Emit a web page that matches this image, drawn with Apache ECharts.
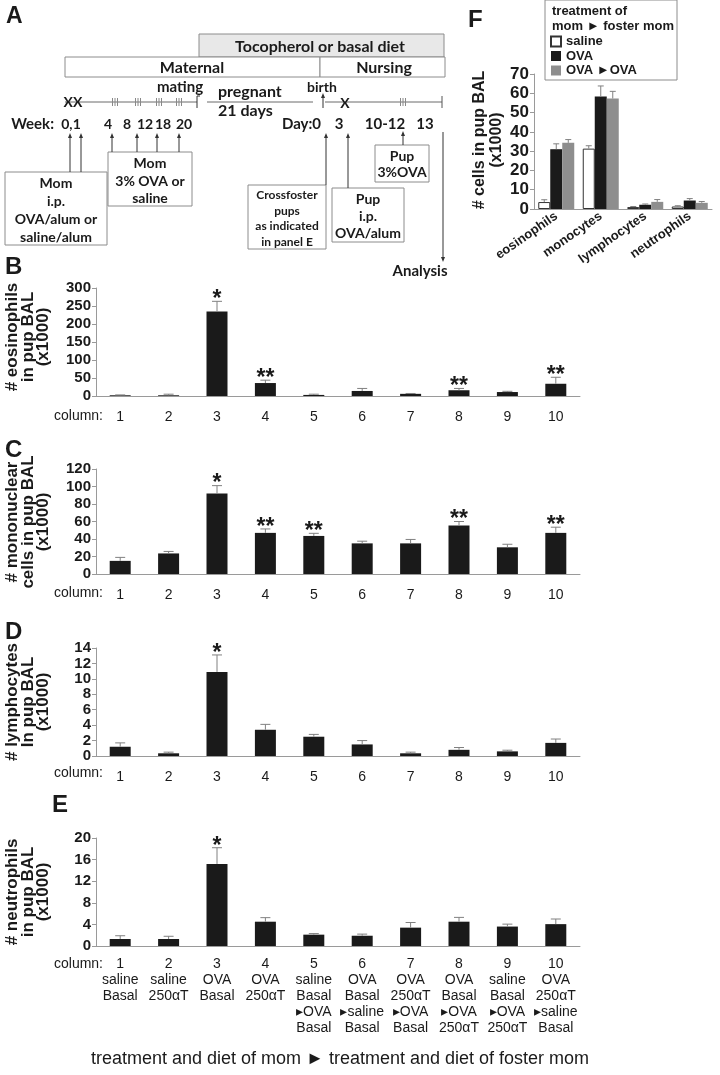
<!DOCTYPE html>
<html><head><meta charset="utf-8">
<script src="https://cdn.jsdelivr.net/npm/echarts@6/dist/echarts.min.js"></script>
<style>html,body{margin:0;padding:0;background:#fff}#c{width:720px;height:1075px}</style>
</head><body><div id="c"></div><script>
// ---------- data ----------
const columnLabels = ['1','2','3','4','5','6','7','8','9','10'];
const columnGroups = ['saline\nBasal','saline\n250αT','OVA\nBasal','OVA\n250αT',
  'saline\nBasal\n▸OVA\nBasal','OVA\nBasal\n▸saline\nBasal','OVA\n250αT\n▸OVA\nBasal',
  'OVA\nBasal\n▸OVA\n250αT','saline\nBasal\n▸OVA\n250αT','OVA\n250αT\n▸saline\nBasal'];

const eosinophils    = [2, 2, 235, 36, 3, 14, 6, 16, 11, 34];
const eosinophilsErr = [3, 5, 263, 44, 5, 21, 7, 21, 13, 52];
const eosinophilsSig = ['', '', '*', '**', '', '', '', '**', '', '**'];

const mononuclear    = [15, 23.5, 92, 47, 43.5, 35, 35, 55.5, 30.5, 47];
const mononuclearErr = [19, 25.8, 101, 51.5, 46.5, 37.5, 39.5, 60, 34, 53.5];
const mononuclearSig = ['', '', '*', '**', '**', '', '', '**', '', '**'];

const lymphocytes    = [1.2, 0.35, 10.9, 3.4, 2.5, 1.5, 0.35, 0.8, 0.6, 1.7];
const lymphocytesErr = [1.7, 0.5, 13.1, 4.1, 2.8, 2.0, 0.5, 1.1, 0.75, 2.2];
const lymphocytesSig = ['', '', '*', '', '', '', '', '', '', ''];

const neutrophils    = [1.3, 1.3, 15.2, 4.5, 2.1, 1.9, 3.4, 4.5, 3.6, 4.05];
const neutrophilsErr = [1.9, 1.8, 18.2, 5.25, 2.3, 2.2, 4.35, 5.3, 4.05, 5.0];
const neutrophilsSig = ['', '', '*', '', '', '', '', '', '', ''];

const cellTypes = ['eosinophils', 'monocytes', 'lymphocytes', 'neutrophils'];
const fosterNames = ['saline', 'OVA', 'OVA ►OVA'];
const fosterSaline    = [3.6, 31.3, 1.0, 1.3];
const fosterSalineErr = [4.8, 32.8, 1.3, 1.7];
const fosterOVA       = [31, 58.3, 2.2, 4.4];
const fosterOVAErr    = [33.8, 63.8, 2.6, 5.4];
const fosterOVAOVA    = [34.3, 57.3, 3.7, 3.2];
const fosterOVAOVAErr = [36, 61, 4.9, 3.9];

// axis scales (max, interval)
const eosAxis = [300, 50], monoAxis = [120, 20], lymphAxis = [14, 2], neutAxis = [20, 4], cellAxis = [70, 10];

// ---------- styling ----------
const NARROW = "'Liberation Sans Narrow','Arial Narrow','Liberation Sans',Arial,sans-serif";
const ARIAL = "'Liberation Sans',Arial,Helvetica,sans-serif";
const CAL = "Lato,'Open Sans',sans-serif";
const INK = '#1a1a1a', AXIS = '#9a9a9a', ERR = '#808080';

const G = [];
function T(x, y, str, o) {
  o = o || {};
  G.push({type: 'text', x: x, y: y, rotation: o.rot || 0, z: 20, silent: true,
    style: {text: str, font: (o.w || 'bold') + ' ' + (o.s || 14) + 'px ' + (o.f || CAL),
      fill: o.c || INK, textAlign: o.a || 'center', textVerticalAlign: o.v || 'middle'}});
}
function R(x, y, w, h, fill) {
  G.push({type: 'rect', z: 5, silent: true, shape: {x: x, y: y, width: w, height: h},
    style: {fill: fill || '#fff', stroke: '#8c8c8c', lineWidth: 1}});
}
function L(x1, y1, x2, y2, c) {
  G.push({type: 'line', z: 6, silent: true, shape: {x1: x1, y1: y1, x2: x2, y2: y2},
    style: {stroke: c || '#6a6a6a', lineWidth: 1}});
}
function up(x, yFrom, yTo) {
  L(x, yFrom, x, yTo + 3, '#333');
  G.push({type: 'polygon', z: 7, silent: true, shape: {points: [[x, yTo], [x - 2, yTo + 5], [x + 2, yTo + 5]]}, style: {fill: '#333'}});
}
function down(x, yFrom, yTo) {
  L(x, yFrom, x, yTo - 3, '#333');
  G.push({type: 'polygon', z: 7, silent: true, shape: {points: [[x, yTo], [x - 2, yTo - 5], [x + 2, yTo - 5]]}, style: {fill: '#333'}});
}
function triple(x, y) { L(x - 2.5, y - 4, x - 2.5, y + 4, '#888'); L(x, y - 4, x, y + 4, '#888'); L(x + 2.5, y - 4, x + 2.5, y + 4, '#888'); }

// ---------- panel A schematic ----------
T(6, 17, 'A', {s: 23, f: ARIAL, a: 'left'});
R(199, 34, 245, 23, '#e8e8e8');
T(320, 47, 'Tocopherol or basal diet', {s: 16});
R(65, 57, 255, 20); T(192, 68, 'Maternal', {s: 16});
R(320, 57, 125, 20); T(384, 68, 'Nursing', {s: 16});
L(65, 102, 197, 102); L(197, 96, 197, 108, '#333'); L(197, 96, 200, 96, '#333');
L(207, 102, 313, 102); L(325, 102, 442, 102); L(442, 96, 442, 108, '#555');
[115, 138, 159, 179, 403].forEach(function (x) { triple(x, 102); });
T(73, 102, 'XX', {s: 14}); T(345, 103, 'X', {s: 14});
T(180, 87, 'mating', {s: 15});
T(218, 92, 'pregnant', {s: 16, a: 'left'}); T(218, 111, '21 days', {s: 16, a: 'left'});
T(322, 87, 'birth', {s: 14}); up(323, 108, 93);
T(54, 124, 'Week:', {s: 15, a: 'right'});
T(71, 124, '0,1', {s: 14}); T(108, 124, '4', {s: 14}); T(127, 124, '8', {s: 14});
T(145, 124, '12', {s: 14}); T(163, 124, '18', {s: 14}); T(184, 124, '20', {s: 14});
T(321, 124, 'Day:0', {s: 15, a: 'right'}); T(339, 124, '3', {s: 15});
T(385, 124, '10-12', {s: 15}); T(425, 124, '13', {s: 15});
[70, 81].forEach(function (x) { up(x, 172, 133); });
[112, 137, 157, 179].forEach(function (x) { up(x, 152, 133); });
up(326, 185, 133); up(348, 188, 133); up(403, 145, 131); down(443, 132, 262);
R(5, 172, 102, 73);
T(56, 183, 'Mom', {s: 14}); T(56, 201, 'i.p.', {s: 14}); T(56, 219, 'OVA/alum or', {s: 14}); T(56, 237, 'saline/alum', {s: 14});
R(108, 152, 84, 54);
T(150, 163, 'Mom', {s: 14}); T(150, 181, '3% OVA or', {s: 14}); T(150, 198, 'saline', {s: 14});
R(248, 185, 78, 64);
T(287, 195, 'Crossfoster', {s: 12}); T(287, 211, 'pups', {s: 12}); T(287, 226, 'as indicated', {s: 12}); T(287, 242, 'in panel E', {s: 12});
R(332, 188, 72, 54);
T(368, 199, 'Pup', {s: 14}); T(368, 216, 'i.p.', {s: 14}); T(368, 233, 'OVA/alum', {s: 14});
R(375, 145, 54, 37);
T(402, 156, 'Pup', {s: 14}); T(402, 172, '3%OVA', {s: 14});
T(420, 271, 'Analysis', {s: 15});

// ---------- panel letters, axis titles, column captions ----------
T(5, 267, 'B', {s: 24, f: ARIAL, a: 'left'});
T(5, 450, 'C', {s: 24, f: ARIAL, a: 'left'});
T(5, 632, 'D', {s: 24, f: ARIAL, a: 'left'});
T(52, 805, 'E', {s: 24, f: ARIAL, a: 'left'});
T(468, 20, 'F', {s: 24, f: ARIAL, a: 'left'});
function ytitle(cy, lines, xs, s) {
  lines.forEach(function (t, i) { T(xs[i], cy, t, {s: s || 17, f: ARIAL, rot: Math.PI / 2}); });
}
ytitle(337, ['# eosinophils', 'in pup BAL', '(x1000)'], [12, 28, 43]);
ytitle(522, ['# mononuclear', 'cells in pup BAL', '(x1000)'], [12, 28, 43]);
ytitle(702, ['# lymphocytes', 'In pup BAL', '(x1000)'], [12, 28, 43]);
ytitle(892, ['# neutrophils', 'in pup BAL', '(x1000)'], [12, 28, 43]);
ytitle(140, ['# cells in pup BAL', '(x1000)'], [480, 497], 16);
[416, 593, 773, 964].forEach(function (y) { T(103, y, 'column:', {s: 14, w: 'normal', f: NARROW, a: 'right'}); });
T(340, 1059, 'treatment and diet of mom ► treatment and diet of foster mom', {s: 18, w: 'normal', f: NARROW});
// legend frame for F
R(545, 0, 132, 80);
T(552, 11, 'treatment of', {s: 13, f: ARIAL, a: 'left'});
T(552, 26, 'mom ► foster mom', {s: 13, f: ARIAL, a: 'left'});

// ---------- chart ----------
const grids = [
  {left: 96, top: 288, width: 484, height: 108},
  {left: 96, top: 469, width: 484, height: 105},
  {left: 96, top: 648, width: 484, height: 108},
  {left: 96, top: 838, width: 484, height: 108},
  {left: 534, top: 74, width: 178, height: 135}
];
function yAx(i, sc, fs) {
  return {type: 'value', gridIndex: i, min: 0, max: sc[0], interval: sc[1],
    splitLine: {show: false},
    axisLine: {show: true, lineStyle: {color: AXIS}},
    axisTick: {show: true, length: 4, lineStyle: {color: AXIS}},
    axisLabel: {color: INK, fontFamily: i === 4 ? ARIAL : NARROW, fontWeight: 'bold', fontSize: fs, margin: 5,
      showMinLabel: true, showMaxLabel: true, hideOverlap: false}};
}
function xAx(i, withGroups) {
  return {type: 'category', gridIndex: i, data: columnLabels,
    axisLine: {show: true, lineStyle: {color: AXIS}}, axisTick: {show: false},
    axisLabel: {interval: 0, color: INK, fontFamily: NARROW, fontSize: 14, margin: withGroups ? 10 : 13, lineHeight: 16,
      formatter: function (v, idx) { return withGroups ? v + '\n' + columnGroups[idx] : v; }}};
}
const xAxes = [xAx(0), xAx(1), xAx(2), xAx(3, true),
  {type: 'category', gridIndex: 4, data: cellTypes,
    axisLine: {show: true, lineStyle: {color: AXIS}}, axisTick: {show: false},
    axisLabel: {interval: 0, rotate: 35, color: INK, fontFamily: ARIAL, fontWeight: 'bold', fontSize: 13, margin: 6}}];
const yAxes = [yAx(0, eosAxis, 15), yAx(1, monoAxis, 15), yAx(2, lymphAxis, 15), yAx(3, neutAxis, 15), yAx(4, cellAxis, 17)];

function errSeries(name, gi, vals, errs, sig, offset) {
  return {type: 'custom', name: name, xAxisIndex: gi, yAxisIndex: gi, z: 3, silent: true,
    data: vals.map(function (v, i) { return [i, v, errs[i]]; }),
    renderItem: function (params, api) {
      const i = api.value(0);
      const p0 = api.coord([i, api.value(1)]);
      const p1 = api.coord([i, api.value(2)]);
      const x = p0[0] + (offset || 0);
      const cap = offset !== undefined ? 3 : 5;
      const ch = [
        {type: 'line', shape: {x1: x, y1: p0[1], x2: x, y2: p1[1]}, style: {stroke: ERR, lineWidth: 1}},
        {type: 'line', shape: {x1: x - cap, y1: p1[1], x2: x + cap, y2: p1[1]}, style: {stroke: ERR, lineWidth: 1}}
      ];
      const s = sig ? sig[params.dataIndex] : '';
      if (s) ch.push({type: 'text', x: x, y: p1[1] + 10, style: {text: s, font: 'bold 23px ' + ARIAL, fill: INK, textAlign: 'center', textVerticalAlign: 'bottom'}});
      return {type: 'group', children: ch};
    }};
}
function barSeries(name, gi, vals) {
  return {type: 'bar', name: name, xAxisIndex: gi, yAxisIndex: gi, data: vals, barWidth: 21,
    itemStyle: {color: INK}};
}
const fosterColors = ['#ffffff', INK, '#8e8e8e'];
const fosterVals = [fosterSaline, fosterOVA, fosterOVAOVA];
const fosterErrs = [fosterSalineErr, fosterOVAErr, fosterOVAOVAErr];
const series = [
  barSeries('eosinophils', 0, eosinophils), errSeries('e0', 0, eosinophils, eosinophilsErr, eosinophilsSig),
  barSeries('mononuclear', 1, mononuclear), errSeries('e1', 1, mononuclear, mononuclearErr, mononuclearSig),
  barSeries('lymphocytes', 2, lymphocytes), errSeries('e2', 2, lymphocytes, lymphocytesErr, lymphocytesSig),
  barSeries('neutrophils', 3, neutrophils), errSeries('e3', 3, neutrophils, neutrophilsErr, neutrophilsSig)
];
fosterNames.forEach(function (n, k) {
  series.push({type: 'bar', name: n, xAxisIndex: 4, yAxisIndex: 4, data: fosterVals[k], barWidth: 12, barGap: '0%',
    itemStyle: {color: fosterColors[k], borderColor: k === 0 ? '#333' : fosterColors[k], borderWidth: k === 0 ? 1 : 0}});
});
fosterNames.forEach(function (n, k) {
  series.push(errSeries('f' + k, 4, fosterVals[k], fosterErrs[k], null, (k - 1) * 12));
});

const chart = echarts.init(document.getElementById('c'), null, {renderer: 'canvas'});
chart.setOption({
  animation: false,
  backgroundColor: '#fff',
  grid: grids,
  xAxis: xAxes,
  yAxis: yAxes,
  legend: {data: fosterNames, orient: 'vertical', left: 550, top: 35, itemWidth: 10, itemHeight: 10, itemGap: 1.5,
    icon: 'rect', selectedMode: false, z: 40, padding: 0,
    textStyle: {fontFamily: ARIAL, fontWeight: 'bold', fontSize: 13, color: INK, lineHeight: 13}},
  series: series,
  graphic: G
});
</script></body></html>
